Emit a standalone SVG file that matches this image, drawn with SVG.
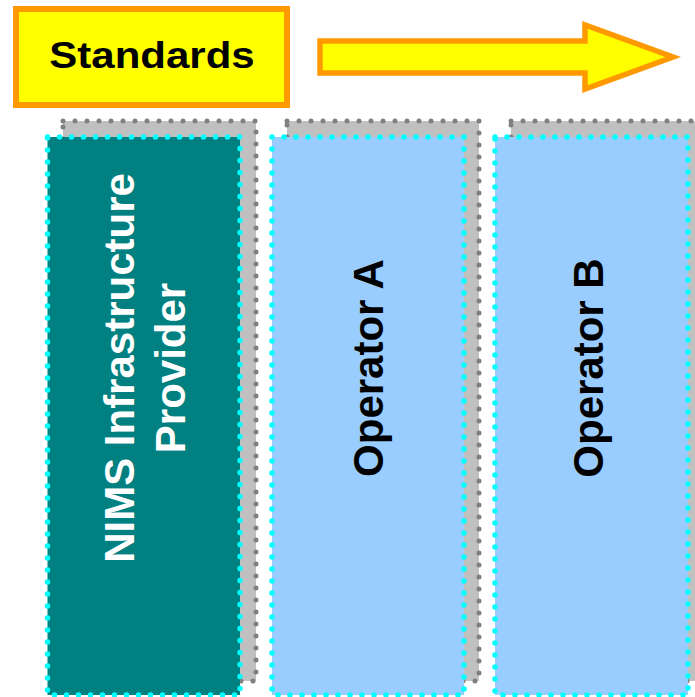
<svg xmlns="http://www.w3.org/2000/svg" width="695" height="697" viewBox="0 0 695 697">
  <style>
    .shadow { fill: #C0C0C0; stroke: #808080; stroke-width: 5; stroke-dasharray: 0 12; stroke-linecap: round; }
    .front { stroke: #00FFFF; stroke-width: 5.5; stroke-dasharray: 0 12; stroke-linecap: round; }
    .lbl { font-family: "Liberation Sans", Arial, sans-serif; font-weight: bold; font-size: 42px; text-anchor: middle; }
  </style>
  <rect width="695" height="697" fill="#FFFFFF"/>
  <g id="standards">
    <rect x="16" y="9" width="271" height="96" fill="#FFFF00" stroke="#FF9900" stroke-width="6"/>
    <text class="lbl" transform="translate(152,68) scale(1,0.86)" fill="#000000">Standards</text>
  </g>
  <g id="connectors">
    <polygon points="320,41 585,41 585,25 673,57 585,89 585,73 320,73" fill="#FFFF00" stroke="#FF9900" stroke-width="5.5" stroke-linejoin="miter" stroke-miterlimit="10"/>
  </g>
  <g id="nims">
    <rect class="shadow" x="63" y="121" width="193" height="560"/>
    <rect class="front" x="47.5" y="137" width="192.5" height="558" fill="#008080"/>
    <text class="lbl" fill="#FFFFFF" transform="translate(134,368) rotate(-90)"><tspan x="0" y="0">NIMS Infrastructure</tspan><tspan x="0" y="51">Provider</tspan></text>
  </g>
  <g id="operator-a">
    <rect class="shadow" x="287" y="121" width="192" height="560"/>
    <rect class="front" x="272" y="137" width="192" height="558" fill="#99CCFF"/>
    <text class="lbl" fill="#000000" transform="translate(383,368) rotate(-90)">Operator A</text>
  </g>
  <g id="operator-b">
    <rect class="shadow" x="511" y="121" width="192" height="560"/>
    <rect class="front" x="495" y="137" width="193" height="558" fill="#99CCFF"/>
    <text class="lbl" fill="#000000" transform="translate(603,368) rotate(-90)">Operator B</text>
  </g>
</svg>
